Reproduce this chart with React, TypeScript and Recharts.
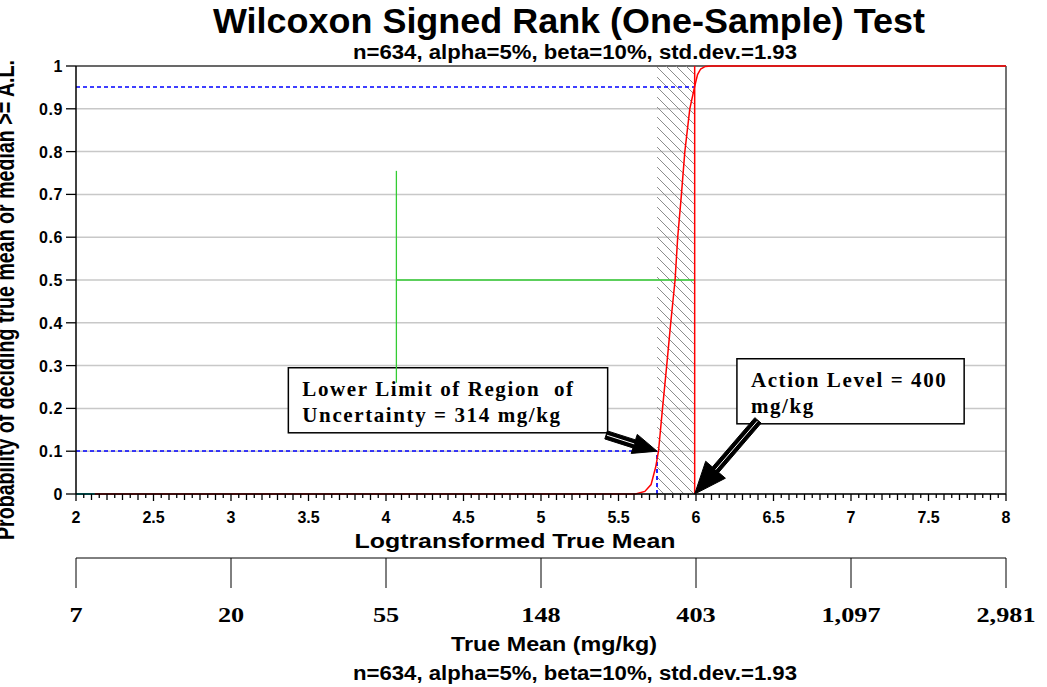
import React from 'react';
import { ComposedChart, Line, XAxis, YAxis, CartesianGrid, ReferenceLine, ReferenceArea } from 'recharts';

const SANS = '"Liberation Sans", Arial, sans-serif';
const SERIF = '"Liberation Serif", "Times New Roman", serif';

// Power curve: log-transformed true mean vs probability of deciding mean >= A.L.
const curveX = [2.12, 5.61, 5.67, 5.71, 5.74, 5.758, 5.784, 5.811, 5.837, 5.865, 5.882, 5.906, 5.928, 5.96, 5.99, 6.01, 6.03, 6.06, 6.1, 8];
const curveY = [0, 0, 0.006, 0.022, 0.063, 0.1, 0.2, 0.3, 0.4, 0.5, 0.6, 0.7, 0.8, 0.9, 0.95, 0.98, 0.993, 0.999, 1, 1];
const cyanX = [2, 2.12];
const cyanY = [0, 0];

const actionLevel = 5.9915; // ln(400)
const lowerLimit = 5.749; // ln(314)
const betaLine = 0.95;
const alphaLine = 0.1;
const greenX = 4.067;
const greenVertY = [0.26, 0.755];
const greenHorizY = 0.5;

const majorTicks = [2, 2.5, 3, 3.5, 4, 4.5, 5, 5.5, 6, 6.5, 7, 7.5, 8];
const majorLabels = ['2', '2.5', '3', '3.5', '4', '4.5', '5', '5.5', '6', '6.5', '7', '7.5', '8'];
const minorTicks = Array.from({ length: 121 }, (_, i) => Math.round((2 + i * 0.05) * 100) / 100);
const yTicks = [0, 0.1, 0.2, 0.3, 0.4, 0.5, 0.6, 0.7, 0.8, 0.9, 1];
const yLabels = ['0', '0.1', '0.2', '0.3', '0.4', '0.5', '0.6', '0.7', '0.8', '0.9', '1'];
const trueMeanTicks = [2, 3, 4, 5, 6, 7, 8];
const trueMeanLabels = ['7', '20', '55', '148', '403', '1,097', '2,981'];

const lowerBox = { x1: 3.37, x2: 5.43, y1: 0.143, y2: 0.295 };
const lowerBoxText = ['Lower Limit of Region  of', 'Uncertainty = 314 mg/kg'];
const actionBox = { x1: 6.264, x2: 7.73, y1: 0.164, y2: 0.316 };
const actionBoxText = ['Action Level = 400', 'mg/kg'];
const arrow1 = { from: { x: 5.42, y: 0.138 }, to: { x: lowerLimit, y: 0.1 } };
const arrow2 = { from: { x: 6.4, y: 0.172 }, to: { x: actionLevel, y: 0 } };

const curveData = curveX.map((x, i) => ({ x, y: curveY[i] }));
const cyanData = cyanX.map((x, i) => ({ x, y: cyanY[i] }));
const trueMeanData = trueMeanTicks.map((x) => ({ x, y: 0 }));

const MainTick = (props: any) => {
  const { x, y, payload } = props;
  const v = payload.value as number;
  const idx = Math.round((v - 2) / 0.05);
  const major = idx % 10 === 0;
  const mid = idx % 2 === 0;
  const len = major ? 7 : mid ? 6 : 4;
  const mi = majorTicks.findIndex((t) => Math.abs(t - v) < 1e-6);
  return (
    <g>
      <line x1={x} y1={y} x2={x} y2={y + len} stroke="#000" strokeWidth={1.3} />
      {major && mi >= 0 && (
        <text x={x} y={y + 29} textAnchor="middle" fontFamily={SANS} fontWeight="bold" fontSize={16} fill="#000">
          {majorLabels[mi]}
        </text>
      )}
    </g>
  );
};

const TrueMeanTick = (props: any) => {
  const { x, y, payload } = props;
  const i = trueMeanTicks.findIndex((t) => Math.abs(t - payload.value) < 1e-6);
  return (
    <g>
      <line x1={x} y1={y} x2={x} y2={y + 30} stroke="#000" strokeWidth={1} />
      <text
        transform={`translate(${x},${y + 64}) scale(1.25,1)`}
        x={0}
        y={0}
        textAnchor="middle"
        fontFamily={SERIF}
        fontWeight="bold"
        fontSize={21}
        fill="#000"
      >
        {trueMeanLabels[i]}
      </text>
    </g>
  );
};

const YTick = (props: any) => {
  const { x, y, payload } = props;
  const i = yTicks.findIndex((t) => Math.abs(t - payload.value) < 1e-6);
  return (
    <text x={x} y={y + 6} textAnchor="end" fontFamily={SANS} fontWeight="bold" fontSize={16} letterSpacing={0.6} fill="#000">
      {yLabels[i]}
    </text>
  );
};

const HatchShape = (props: any) => {
  const { x, y, width, height } = props;
  return (
    <g>
      <defs>
        <pattern id="hatch" patternUnits="userSpaceOnUse" width="10" height="10">
          <path d="M-1,-1 L11,11 M-1,9 L1,11 M9,-1 L11,1" stroke="#8c8c8c" strokeWidth={1} />
        </pattern>
      </defs>
      <rect x={x} y={y} width={width} height={height} fill="url(#hatch)" />
    </g>
  );
};

const DashShape = (props: any) => {
  const { x1, y1, x2, y2 } = props;
  return (
    <line
      x1={Math.round(x1)}
      y1={Math.round(y1)}
      x2={Math.round(x2)}
      y2={Math.round(y2)}
      stroke="#0000ff"
      strokeWidth={1.7}
      strokeDasharray="4 3"
    />
  );
};

const makeBoxShape = (lines: string[], padX: number, firstBase: number, lineGap: number) => (props: any) => {
  const { x, y, width, height } = props;
  return (
    <g>
      <rect x={x} y={y} width={width} height={height} fill="#fff" stroke="#000" strokeWidth={1.5} />
      {lines.map((t, i) => (
        <text
          key={i}
          x={x + padX}
          y={y + firstBase + i * lineGap}
          fontFamily={SERIF}
          fontWeight="bold"
          fontSize={21}
          letterSpacing={1.6}
          fill="#000"
          style={{ whiteSpace: 'pre' }}
        >
          {t}
        </text>
      ))}
    </g>
  );
};

const makeArrow = (headLen: number, headHalf: number) => (props: any) => {
  const { x1, y1, x2, y2 } = props;
  const dx = x2 - x1;
  const dy = y2 - y1;
  const L = Math.sqrt(dx * dx + dy * dy) || 1;
  const ux = dx / L;
  const uy = dy / L;
  const nx = -uy;
  const ny = ux;
  const sw = 4.2;
  const bx = x2 - ux * headLen;
  const by = y2 - uy * headLen;
  const pts = [
    [x1 + nx * sw, y1 + ny * sw],
    [bx + nx * sw, by + ny * sw],
    [bx + nx * headHalf, by + ny * headHalf],
    [x2, y2],
    [bx - nx * headHalf, by - ny * headHalf],
    [bx - nx * sw, by - ny * sw],
    [x1 - nx * sw, y1 - ny * sw],
  ]
    .map((p) => p.join(','))
    .join(' ');
  return (
    <g>
      <polygon points={pts} fill="#000" stroke="#000" strokeWidth={1} />
      <line x1={x1 + ux * 1} y1={y1 + uy * 1} x2={bx} y2={by} stroke="#fff" strokeWidth={1} />
    </g>
  );
};

const BorderShape = (props: any) => {
  const { x, y, width, height } = props;
  return (
    <g>
      <line x1={x} y1={y} x2={x + width} y2={y} stroke="#444" strokeWidth={1.5} />
      <line x1={x + width} y1={y} x2={x + width} y2={y + height} stroke="#444" strokeWidth={1.5} />
    </g>
  );
};

export default function App() {
  return (
    <div style={{ position: 'absolute', left: 0, top: 0, width: 1047, height: 687, background: '#fff', overflow: 'hidden' }}>
      <ComposedChart width={1047} height={687} margin={{ top: 66, right: 41, bottom: 0, left: 0 }}>
        <CartesianGrid xAxisId="main" yAxisId="left" vertical={false} stroke="#c8c8c8" strokeWidth={1.5} />
        <XAxis
          xAxisId="main"
          type="number"
          dataKey="x"
          domain={[2, 8]}
          ticks={minorTicks}
          interval={0}
          tick={<MainTick />}
          tickLine={false}
          tickSize={0}
          tickMargin={0}
          height={64}
          axisLine={{ stroke: '#000', strokeWidth: 1.5 }}
          allowDataOverflow
        />
        <XAxis
          xAxisId="tm"
          type="number"
          dataKey="x"
          domain={[2, 8]}
          ticks={trueMeanTicks}
          interval={0}
          tick={<TrueMeanTick />}
          tickLine={false}
          tickSize={0}
          tickMargin={0}
          height={129}
          axisLine={{ stroke: '#000', strokeWidth: 1 }}
          allowDataOverflow
        />
        <YAxis
          yAxisId="left"
          type="number"
          domain={[0, 1]}
          ticks={yTicks}
          interval={0}
          width={76}
          tick={<YTick />}
          tickSize={10}
          tickMargin={3}
          tickLine={{ stroke: '#000', strokeWidth: 1.3 }}
          axisLine={{ stroke: '#000', strokeWidth: 1.5 }}
        />
        <ReferenceArea xAxisId="main" yAxisId="left" x1={2} x2={8} y1={0} y2={1} shape={<BorderShape />} ifOverflow="visible" />
        <ReferenceArea xAxisId="main" yAxisId="left" x1={lowerLimit} x2={actionLevel} y1={0} y2={1} shape={<HatchShape />} />
        <ReferenceLine xAxisId="main" yAxisId="left" segment={[{ x: 2, y: betaLine }, { x: actionLevel, y: betaLine }]} shape={<DashShape />} />
        <ReferenceLine xAxisId="main" yAxisId="left" segment={[{ x: 2, y: alphaLine }, { x: lowerLimit, y: alphaLine }]} shape={<DashShape />} />
        <ReferenceLine xAxisId="main" yAxisId="left" segment={[{ x: lowerLimit, y: 0 }, { x: lowerLimit, y: alphaLine }]} shape={<DashShape />} />
        <ReferenceLine xAxisId="main" yAxisId="left" segment={[{ x: greenX, y: greenVertY[0] }, { x: greenX, y: greenVertY[1] }]} stroke="#33cc33" strokeWidth={1.3} />
        <ReferenceLine xAxisId="main" yAxisId="left" segment={[{ x: greenX, y: greenHorizY }, { x: actionLevel, y: greenHorizY }]} stroke="#33cc33" strokeWidth={1.3} />
        <ReferenceLine xAxisId="main" yAxisId="left" segment={[{ x: actionLevel, y: 0 }, { x: actionLevel, y: 1 }]} stroke="#ff0000" strokeWidth={1.5} />
        <Line xAxisId="tm" yAxisId="left" data={trueMeanData} dataKey="y" type="linear" stroke="none" strokeWidth={0} dot={false} isAnimationActive={false} />
        <Line xAxisId="main" yAxisId="left" data={curveData} dataKey="y" type="linear" stroke="#ff0000" strokeWidth={1.5} dot={false} isAnimationActive={false} />
        <Line xAxisId="main" yAxisId="left" data={cyanData} dataKey="y" type="linear" stroke="#00ffff" strokeWidth={2} dot={false} isAnimationActive={false} />
        <ReferenceArea xAxisId="main" yAxisId="left" {...lowerBox} shape={makeBoxShape(lowerBoxText, 14, 28, 26)} />
        <ReferenceArea xAxisId="main" yAxisId="left" {...actionBox} shape={makeBoxShape(actionBoxText, 14, 28, 26)} />
        <ReferenceLine xAxisId="main" yAxisId="left" segment={[arrow1.from, arrow1.to]} shape={makeArrow(24, 10)} />
        <ReferenceLine xAxisId="main" yAxisId="left" segment={[arrow2.from, arrow2.to]} shape={makeArrow(32, 13)} />
      </ComposedChart>
      <svg width={1047} height={687} style={{ position: 'absolute', left: 0, top: 0, pointerEvents: 'none' }}>
        <text x={569} y={33} textAnchor="middle" fontFamily={SANS} fontWeight="bold" fontSize={35} textLength={712} lengthAdjust="spacingAndGlyphs" fill="#000">
          Wilcoxon Signed Rank (One-Sample) Test
        </text>
        <text x={575} y={59} textAnchor="middle" fontFamily={SANS} fontWeight="bold" fontSize={20} textLength={444} lengthAdjust="spacingAndGlyphs" fill="#000">
          n=634, alpha=5%, beta=10%, std.dev.=1.93
        </text>
        <text x={515} y={548} textAnchor="middle" fontFamily={SANS} fontWeight="bold" fontSize={21} textLength={321} lengthAdjust="spacingAndGlyphs" fill="#000">
          Logtransformed True Mean
        </text>
        <text x={554} y={651} textAnchor="middle" fontFamily={SANS} fontWeight="bold" fontSize={21} textLength={206} lengthAdjust="spacingAndGlyphs" fill="#000">
          True Mean (mg/kg)
        </text>
        <text x={575} y={680} textAnchor="middle" fontFamily={SANS} fontWeight="bold" fontSize={20} textLength={444} lengthAdjust="spacingAndGlyphs" fill="#000">
          n=634, alpha=5%, beta=10%, std.dev.=1.93
        </text>
        <text
          transform="translate(14,300) rotate(-90) scale(1,1.4)"
          x={0}
          y={0}
          textAnchor="middle"
          fontFamily={SANS}
          fontWeight="bold"
          fontSize={18}
          textLength={480}
          lengthAdjust="spacingAndGlyphs"
          fill="#000"
        >
          Probability of deciding true mean or median &gt;= A.L.
        </text>
      </svg>
    </div>
  );
}
